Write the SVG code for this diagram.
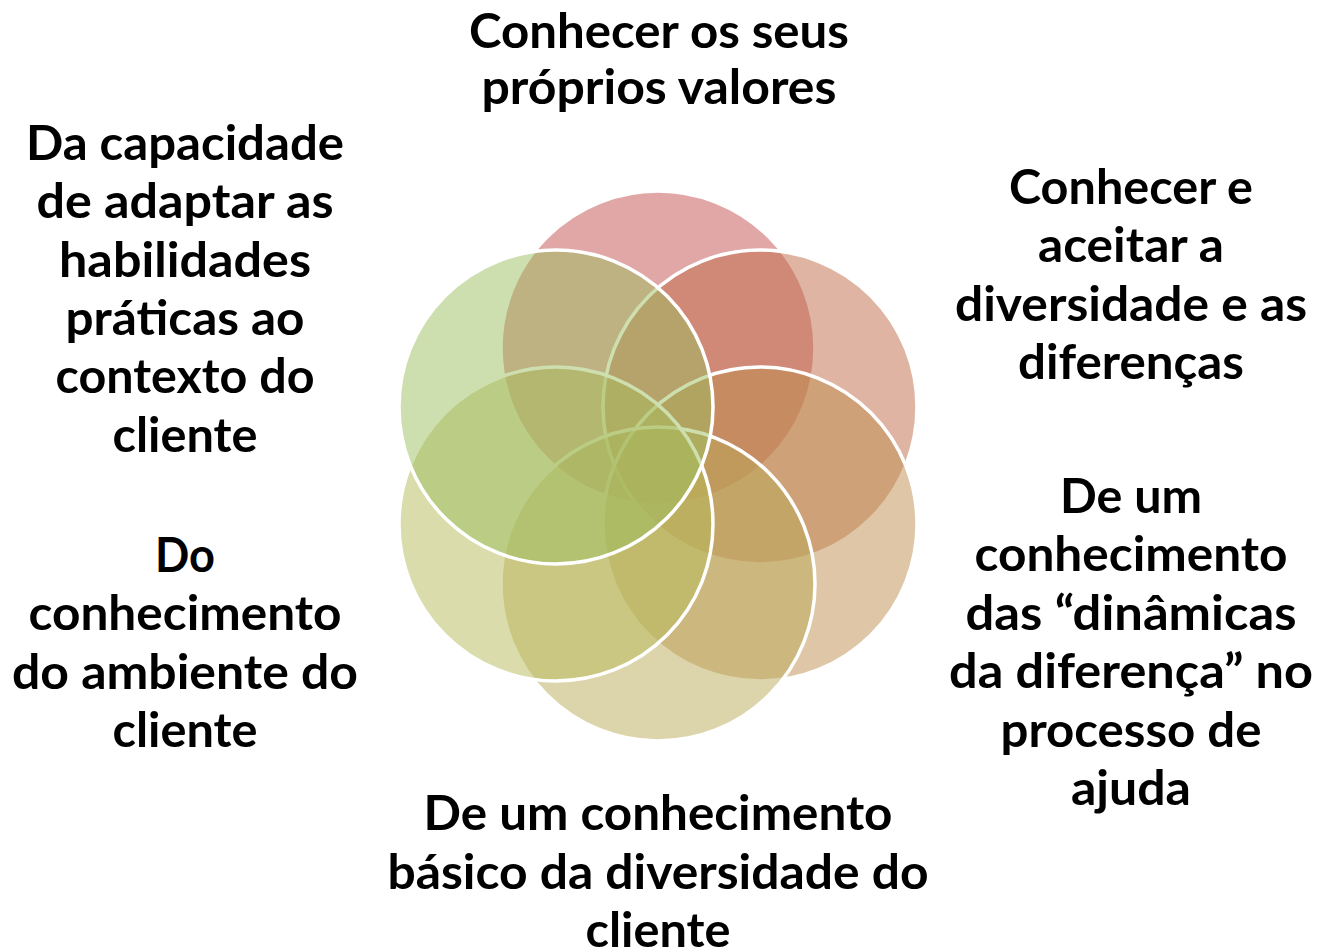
<svg xmlns="http://www.w3.org/2000/svg" width="1319" height="948" viewBox="0 0 1319 948">
<style>
.c{stroke:#fff;stroke-width:3.5;fill-opacity:0.5}
.t{font-family:Lato,"Open Sans","Liberation Sans",sans-serif;font-weight:bold;font-size:48px;fill:#000;text-anchor:middle}
</style>
<rect width="1319" height="948" fill="#fff"/>
<g id="circles">
<g id="n1"><circle class="c" cx="658" cy="348" r="157" fill="#C14F4D"/></g>
<g id="n2"><circle class="c" cx="760" cy="407" r="157" fill="#BF6947"/></g>
<g id="n3"><circle class="c" cx="760" cy="524" r="157" fill="#BD8D4D"/></g>
<g id="n4"><circle class="c" cx="658" cy="584" r="157" fill="#B9A957"/></g>
<g id="n5"><circle class="c" cx="556" cy="524" r="157" fill="#B5B957"/></g>
<g id="n6"><circle class="c" cx="556" cy="407" r="157" fill="#9BBD5F"/></g>
</g>
<g id="connectors"></g>
<g id="label-top">
<text class="t" x="659" y="48" textLength="380" lengthAdjust="spacingAndGlyphs">Conhecer os seus</text>
<text class="t" x="659" y="104" textLength="355" lengthAdjust="spacingAndGlyphs">próprios valores</text>
</g>
<g id="label-topleft">
<text class="t" x="185" y="160" textLength="318" lengthAdjust="spacingAndGlyphs">Da capacidade</text>
<text class="t" x="185" y="218" textLength="297" lengthAdjust="spacingAndGlyphs">de adaptar as</text>
<text class="t" x="185" y="277" textLength="252" lengthAdjust="spacingAndGlyphs">habilidades</text>
<text class="t" x="185" y="335" textLength="239" lengthAdjust="spacingAndGlyphs">práticas ao</text>
<text class="t" x="185" y="393" textLength="259" lengthAdjust="spacingAndGlyphs">contexto do</text>
<text class="t" x="185" y="452" textLength="145" lengthAdjust="spacingAndGlyphs">cliente</text>
</g>
<g id="label-topright">
<text class="t" x="1131" y="204" textLength="244" lengthAdjust="spacingAndGlyphs">Conhecer e</text>
<text class="t" x="1131" y="262" textLength="186" lengthAdjust="spacingAndGlyphs">aceitar a</text>
<text class="t" x="1131" y="321" textLength="352" lengthAdjust="spacingAndGlyphs">diversidade e as</text>
<text class="t" x="1131" y="379" textLength="226" lengthAdjust="spacingAndGlyphs">diferenças</text>
</g>
<g id="label-bottomright">
<text class="t" x="1131" y="513" textLength="142" lengthAdjust="spacingAndGlyphs">De um</text>
<text class="t" x="1131" y="571" textLength="313" lengthAdjust="spacingAndGlyphs">conhecimento</text>
<text class="t" x="1131" y="630" textLength="331" lengthAdjust="spacingAndGlyphs">das “dinâmicas</text>
<text class="t" x="1131" y="688" textLength="364" lengthAdjust="spacingAndGlyphs">da diferença” no</text>
<text class="t" x="1131" y="747" textLength="261" lengthAdjust="spacingAndGlyphs">processo de</text>
<text class="t" x="1131" y="805" textLength="120" lengthAdjust="spacingAndGlyphs">ajuda</text>
</g>
<g id="label-bottomleft">
<text class="t" x="185" y="572" textLength="60" lengthAdjust="spacingAndGlyphs">Do</text>
<text class="t" x="185" y="630" textLength="313" lengthAdjust="spacingAndGlyphs">conhecimento</text>
<text class="t" x="185" y="689" textLength="346" lengthAdjust="spacingAndGlyphs">do ambiente do</text>
<text class="t" x="185" y="747" textLength="145" lengthAdjust="spacingAndGlyphs">cliente</text>
</g>
<g id="label-bottom">
<text class="t" x="658" y="830" textLength="469" lengthAdjust="spacingAndGlyphs">De um conhecimento</text>
<text class="t" x="658" y="889" textLength="541" lengthAdjust="spacingAndGlyphs">básico da diversidade do</text>
<text class="t" x="658" y="947" textLength="145" lengthAdjust="spacingAndGlyphs">cliente</text>
</g>
</svg>
